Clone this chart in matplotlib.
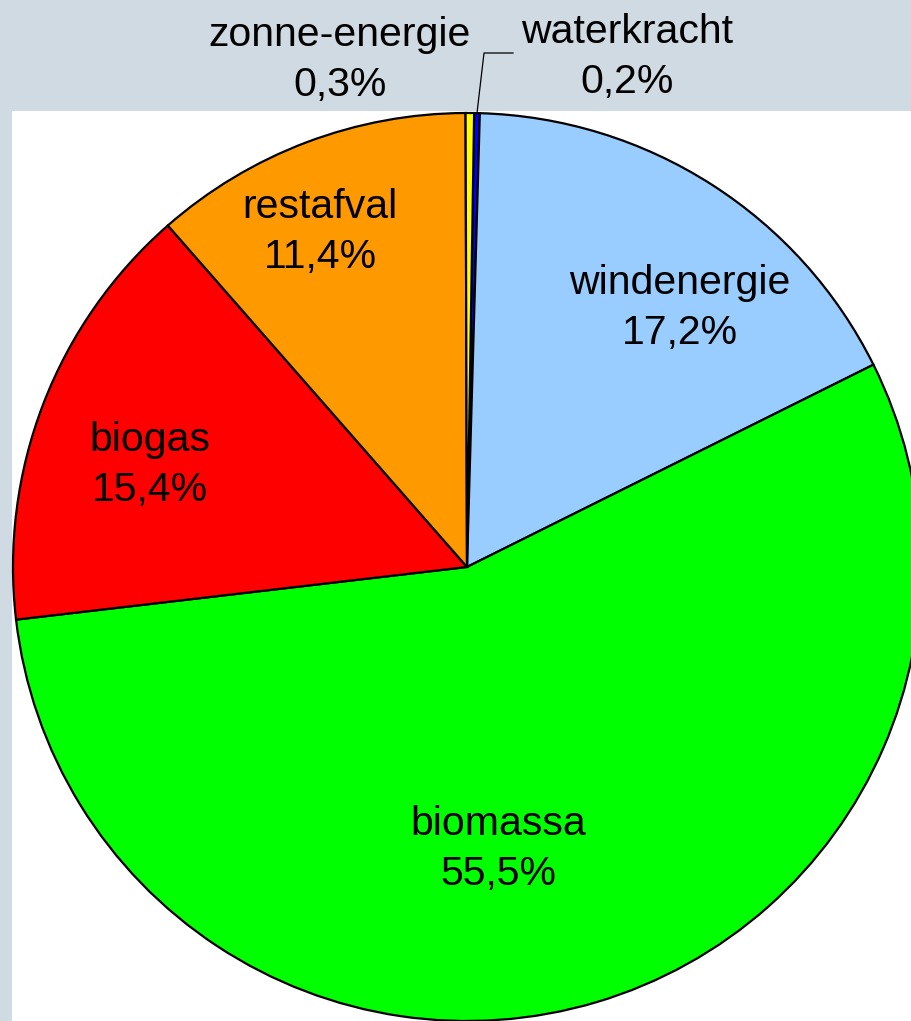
import numpy as np
import matplotlib.pyplot as plt
from matplotlib.patches import Rectangle

plt.rcParams['font.family'] = ['Liberation Sans', 'DejaVu Sans']

# data (clockwise from top)
labels = ["waterkracht", "windenergie", "biomassa", "biogas", "restafval", "zonne-energie"]
shares = [0.2, 17.2, 55.5, 15.4, 11.4, 0.3]
colors = ["#0000ff", "#99ccff", "#00ff00", "#ff0000", "#ff9900", "#ffff00"]

# label centres in pixel coords (x, y from top)
label_pos = {
    "waterkracht": (627, 57),
    "windenergie": (680, 308),
    "biomassa": (498, 849),
    "biogas": (150, 465),
    "restafval": (320, 232),
    "zonne-energie": (340, 60),
}

W, H = 912, 1021
fig = plt.figure(figsize=(W / 100, H / 100), dpi=100)
fig.patch.set_facecolor("#d0dae3")
ax = fig.add_axes([0, 0, 1, 1])

ax.add_patch(Rectangle((12, 0), W - 12, H - 111, facecolor="white", edgecolor="none", zorder=0))

cx, cy, r = 467, H - 567, 454
wedges, _ = ax.pie(shares, colors=colors, startangle=89.1, counterclock=False,
                   center=(cx, cy), radius=r,
                   wedgeprops=dict(edgecolor="black", linewidth=1.6))
for w in wedges:
    w.set_zorder(2)

for lab, val in zip(labels, shares):
    x, y = label_pos[lab]
    txt = lab + "\n" + f"{val:.1f}%".replace(".", ",")
    ax.text(x, H - y, txt, ha="center", va="center", fontsize=29.5,
            linespacing=1.42, zorder=5)

# leader line for waterkracht
w0 = wedges[0]
mid = np.deg2rad((w0.theta1 + w0.theta2) / 2)
x0, y0 = cx + r * np.cos(mid), cy + r * np.sin(mid)
ax.plot([x0, 484, 513], [y0, H - 53, H - 53], color="black", linewidth=0.9, zorder=4)

ax.set_xlim(0, W)
ax.set_ylim(0, H)
ax.set_aspect("equal")
ax.axis("off")

fig.savefig("out.png", dpi=100, facecolor=fig.get_facecolor())
